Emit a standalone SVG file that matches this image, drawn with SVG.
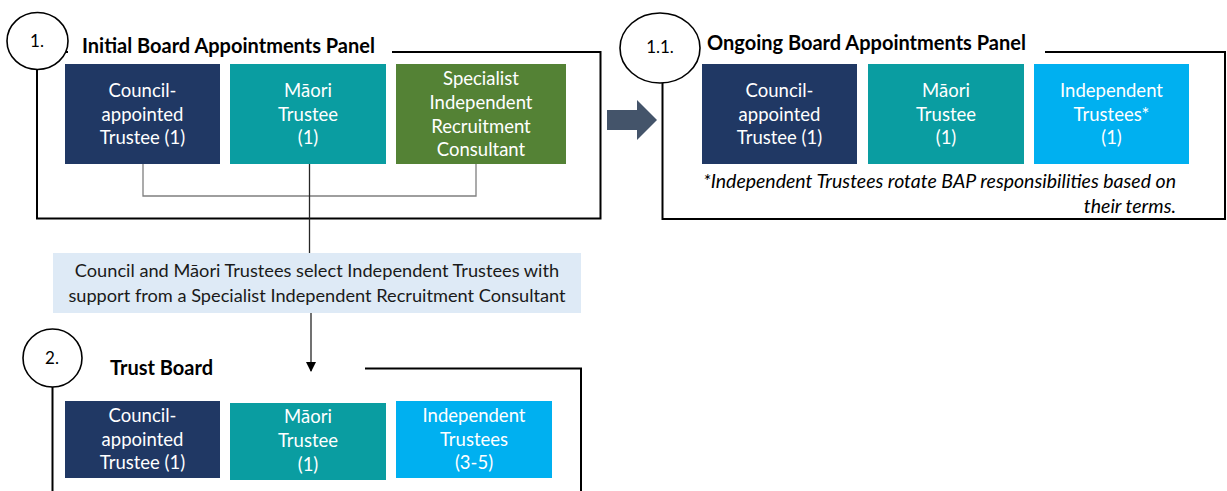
<svg xmlns="http://www.w3.org/2000/svg" width="1227" height="491" viewBox="0 0 1227 491">
  <style>
    .frame { fill: none; stroke: #000; stroke-width: 2; }
    .link { fill: none; stroke: #7f7f7f; stroke-width: 1.3; }
    .flow { fill: none; stroke: #262626; stroke-width: 1.3; }
    .badge { fill: #fff; stroke: #000; stroke-width: 1.6; }
    .badge-txt { font-family: "Lato", "Liberation Sans", sans-serif; font-size: 17px; fill: #000; text-anchor: middle; }
    .title { font-family: "Lato", "Liberation Sans", sans-serif; font-size: 20px; font-weight: bold; fill: #000; }
    .box-txt { font-family: "Lato", "Liberation Sans", sans-serif; font-size: 18.5px; fill: #fff; text-anchor: middle; }
    .note { font-family: "Lato", "Liberation Sans", sans-serif; font-size: 18.2px; fill: #1a1a1a; text-anchor: middle; }
    .foot { font-family: "Lato", "Liberation Sans", sans-serif; font-size: 19.5px; font-style: italic; fill: #000; text-anchor: end; }
    .navy { fill: #203864; }
    .teal { fill: #0a9da1; }
    .green { fill: #548235; }
    .sky { fill: #00b0f0; }
  </style>
  <defs>
    <marker id="tip" markerWidth="10" markerHeight="10" refX="9" refY="5" orient="auto" markerUnits="userSpaceOnUse">
      <path d="M0,0 L10,5 L0,10 Z" fill="#000"/>
    </marker>
  </defs>

  <rect width="1227" height="491" fill="#fff"/>

  <!-- Panel frames -->
  <g id="frames">
    <polyline class="frame" points="37,70 37,218.5 600.5,218.5 600.5,52 392,52"/>
    <line class="frame" x1="64" y1="52" x2="68" y2="52"/>
    <polyline class="frame" points="662.5,83 662.5,219 1225,219 1225,52 1045,52"/>
    <polyline class="frame" points="52.5,387 52.5,491"/>
    <polyline class="frame" points="365,368.5 581,368.5 581,491"/>
  </g>

  <!-- Connectors -->
  <g id="connectors">
    <polyline class="link" points="143,164 143,196 476,196 476,164"/>
    <line class="flow" x1="309.5" y1="164" x2="309.5" y2="253"/>
    <line class="flow" x1="311" y1="313" x2="311" y2="371" marker-end="url(#tip)"/>
    <path id="step-arrow" d="M607,110 L637,110 L637,100 L657,120 L637,140 L637,130 L607,130 Z" fill="#44546a"/>
  </g>

  <!-- Step 1: Initial Board Appointments Panel -->
  <g id="badge-1">
    <ellipse class="badge" cx="37.5" cy="41" rx="30.5" ry="28.5"/>
    <text class="badge-txt" x="37" y="47">1.</text>
  </g>
  <text id="title-1" class="title" x="82" y="53">Initial Board Appointments Panel</text>

  <g id="p1-council">
    <rect class="navy" x="65" y="64" width="155" height="100"/>
    <text class="box-txt" x="142.5" y="96.5">Council-</text>
    <text class="box-txt" x="142.5" y="120.5">appointed</text>
    <text class="box-txt" x="142.5" y="144">Trustee (1)</text>
  </g>
  <g id="p1-maori">
    <rect class="teal" x="230" y="64" width="156" height="100"/>
    <text class="box-txt" x="308" y="96.5">Māori</text>
    <text class="box-txt" x="308" y="120.5">Trustee</text>
    <text class="box-txt" x="308" y="144">(1)</text>
  </g>
  <g id="p1-consultant">
    <rect class="green" x="396" y="64" width="170" height="100"/>
    <text class="box-txt" x="481" y="85">Specialist</text>
    <text class="box-txt" x="481" y="109">Independent</text>
    <text class="box-txt" x="481" y="133">Recruitment</text>
    <text class="box-txt" x="481" y="156">Consultant</text>
  </g>

  <!-- Selection step -->
  <g id="selection">
    <rect x="53" y="253" width="528" height="60" fill="#deeaf6"/>
    <text class="note" x="317" y="277">Council and Māori Trustees select Independent Trustees with</text>
    <text class="note" x="317" y="302">support from a Specialist Independent Recruitment Consultant</text>
  </g>

  <!-- Step 1.1: Ongoing Board Appointments Panel -->
  <g id="badge-1-1">
    <ellipse class="badge" cx="660" cy="48" rx="40" ry="35"/>
    <text class="badge-txt" x="660" y="53">1.1.</text>
  </g>
  <text id="title-1-1" class="title" x="707" y="50">Ongoing Board Appointments Panel</text>

  <g id="p11-council">
    <rect class="navy" x="702" y="64" width="155" height="100"/>
    <text class="box-txt" x="779.5" y="96.5">Council-</text>
    <text class="box-txt" x="779.5" y="120.5">appointed</text>
    <text class="box-txt" x="779.5" y="144">Trustee (1)</text>
  </g>
  <g id="p11-maori">
    <rect class="teal" x="868" y="64" width="156" height="100"/>
    <text class="box-txt" x="946" y="96.5">Māori</text>
    <text class="box-txt" x="946" y="120.5">Trustee</text>
    <text class="box-txt" x="946" y="144">(1)</text>
  </g>
  <g id="p11-independent">
    <rect class="sky" x="1034" y="64" width="155" height="100"/>
    <text class="box-txt" x="1111.5" y="96.5">Independent</text>
    <text class="box-txt" x="1111.5" y="120.5">Trustees*</text>
    <text class="box-txt" x="1111.5" y="144">(1)</text>
  </g>
  <g id="footnote">
    <text class="foot" x="1176" y="188">*Independent Trustees rotate BAP responsibilities based on</text>
    <text class="foot" x="1176" y="213">their terms.</text>
  </g>

  <!-- Step 2: Trust Board -->
  <g id="badge-2">
    <ellipse class="badge" cx="52.5" cy="358" rx="29.5" ry="29"/>
    <text class="badge-txt" x="52" y="364">2.</text>
  </g>
  <text id="title-2" class="title" x="110" y="375">Trust Board</text>

  <g id="tb-council">
    <rect class="navy" x="65" y="401" width="155" height="77"/>
    <text class="box-txt" x="142.5" y="421.5">Council-</text>
    <text class="box-txt" x="142.5" y="445.5">appointed</text>
    <text class="box-txt" x="142.5" y="469">Trustee (1)</text>
  </g>
  <g id="tb-maori">
    <rect class="teal" x="230" y="403" width="156" height="77"/>
    <text class="box-txt" x="308" y="423">Māori</text>
    <text class="box-txt" x="308" y="447">Trustee</text>
    <text class="box-txt" x="308" y="470.5">(1)</text>
  </g>
  <g id="tb-independent">
    <rect class="sky" x="396" y="401" width="156" height="77"/>
    <text class="box-txt" x="474" y="421.5">Independent</text>
    <text class="box-txt" x="474" y="445.5">Trustees</text>
    <text class="box-txt" x="474" y="469">(3-5)</text>
  </g>
</svg>
